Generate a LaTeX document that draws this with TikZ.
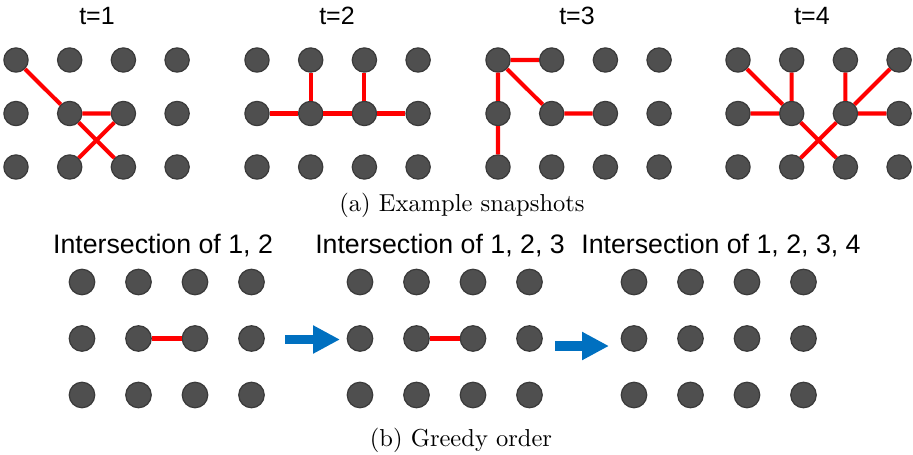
\documentclass[tikz,border=0pt]{standalone}
\usepackage{fontspec}
\newfontfamily\labelfont{Liberation Sans}
\usetikzlibrary{arrows.meta}
\definecolor{dotgray}{HTML}{4F4F4F}
\definecolor{dotedge}{HTML}{3A3A3A}
\definecolor{linkred}{HTML}{FF0000}
\definecolor{arrowblue}{HTML}{0070C0}

\begin{document}
\begin{tikzpicture}[x=0.408pt, y=-0.408pt, line cap=round, line join=round,
    dot/.style={circle, fill=dotgray, draw=dotedge, line width=0.5pt,
      inner sep=0pt, minimum size=9.9pt},
    bigdot/.style={dot, minimum size=10.4pt},
    link/.style={draw=linkred, line width=1.65pt, line cap=butt},
    flow/.style={draw=arrowblue, line width=4pt, line cap=butt,
      -{Triangle[length=11pt, width=10.8pt]}},
    tlbl/.style={font=\labelfont\fontsize{10.2}{12}\selectfont},
    ilbl/.style={font=\labelfont\fontsize{10.9}{13}\selectfont},
    sublbl/.style={font=\normalsize}]
  \useasboundingbox (0,0) rectangle (913,455);
  % ================= (a) snapshots =================
  \foreach \p/\xo/\lx in {1/16/97, 2/257/337, 3/498/577, 4/738/812} {
    \node[tlbl] (t\p) at (\lx,16) {t=\p};
    \foreach \c in {0,...,3}
      \foreach \r in {0,1,2}
        \node[dot] (a\p-\c\r) at (\xo+53.7*\c, 60+53.5*\r) {};
  }
  % t=1
  \draw[link] (a1-00) -- (a1-11) (a1-11) -- (a1-21)
              (a1-11) -- (a1-22) (a1-21) -- (a1-12);
  % t=2
  \draw[link] (a2-01) -- (a2-11) (a2-11) -- (a2-21) (a2-21) -- (a2-31)
              (a2-10) -- (a2-11) (a2-20) -- (a2-21);
  % t=3
  \draw[link] (a3-00) -- (a3-10) (a3-00) -- (a3-11) (a3-11) -- (a3-21)
              (a3-00) -- (a3-01) (a3-01) -- (a3-02);
  % t=4
  \draw[link] (a4-00) -- (a4-11) (a4-10) -- (a4-11) (a4-01) -- (a4-11)
              (a4-11) -- (a4-22) (a4-21) -- (a4-12)
              (a4-20) -- (a4-21) (a4-30) -- (a4-21) (a4-21) -- (a4-31);
  \node[sublbl] (capa) at (462,205) {(a) Example snapshots};
  % ================= (b) greedy order =================
  \foreach \p/\xo/\lx/\txt in {1/82/163/{1, 2}, 2/360/440/{1, 2, 3},
                              3/634/721/{1, 2, 3, 4}} {
    \node[ilbl] (i\p) at (\lx,246) {Intersection of \txt};
    \foreach \c in {0,...,3}
      \foreach \r in {0,1,2}
        \node[bigdot] (b\p-\c\r) at (\xo+56.5*\c, 282+56.5*\r) {};
  }
  \draw[link] (b1-11) -- (b1-21);
  \draw[link] (b2-11) -- (b2-21);
  % arrows between panels
  \coordinate (arr1-s) at (285,339.5);
  \coordinate (arr1-e) at (340,339.5);
  \coordinate (arr2-s) at (555,346);
  \coordinate (arr2-e) at (609,346);
  \draw[flow] (arr1-s) -- (arr1-e);
  \draw[flow] (arr2-s) -- (arr2-e);
  \node[sublbl] (capb) at (461,440) {(b) Greedy order};
\end{tikzpicture}
\end{document}
